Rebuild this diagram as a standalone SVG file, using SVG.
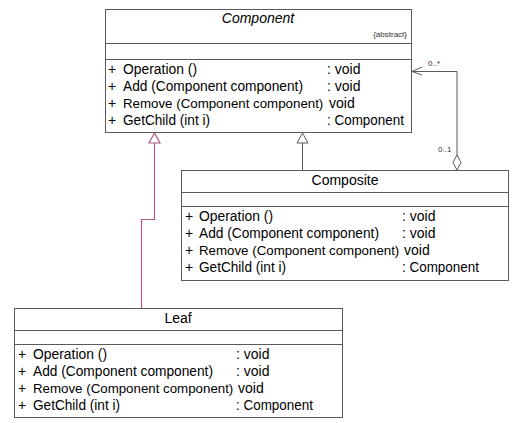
<svg xmlns="http://www.w3.org/2000/svg" width="526" height="423" viewBox="0 0 526 423">
<style>
.box{fill:#fff;stroke:#5a5a5a;stroke-width:1}
.sep{stroke:#5a5a5a;stroke-width:1}
.t{font-family:"Liberation Sans",Arial,sans-serif;font-size:14px;fill:#000}
.r{font-size:13.3px}
.title{font-family:"Liberation Sans",Arial,sans-serif;font-size:14px;fill:#000;text-anchor:middle}
.small{font-family:"Liberation Sans",Arial,sans-serif;font-size:8px;fill:#333}
.gen{fill:none;stroke:#5a5a5a;stroke-width:1}
.genp{fill:none;stroke:#b0578a;stroke-width:1.2}
</style>
<rect width="526" height="423" fill="#fff"/>
<g id="component">
<rect class="box" x="105.5" y="9.5" width="306" height="123"/>
<line class="sep" x1="105.5" y1="43.5" x2="411.5" y2="43.5"/>
<line class="sep" x1="105.5" y1="59.5" x2="411.5" y2="59.5"/>
<text class="title" x="258" y="23" font-style="italic">Component</text>
<text class="small" x="407" y="37" text-anchor="end">{abstract}</text>
<text class="t" x="108" y="74">+</text><text class="t" x="123" y="74" textLength="74" lengthAdjust="spacingAndGlyphs">Operation ()</text><text class="t" x="327" y="74">: void</text>
<text class="t" x="108" y="91">+</text><text class="t" x="123" y="91" textLength="180" lengthAdjust="spacingAndGlyphs">Add (Component component)</text><text class="t" x="327" y="91">: void</text>
<text class="t" x="108" y="108">+</text><text class="t r" x="123" y="108">Remove (Component component)</text><text class="t" x="329" y="108">void</text>
<text class="t" x="108" y="125">+</text><text class="t" x="123" y="125" textLength="87" lengthAdjust="spacingAndGlyphs">GetChild (int i)</text><text class="t" x="327" y="125" textLength="77" lengthAdjust="spacingAndGlyphs">: Component</text>
</g>
<g id="composite">
<rect class="box" x="181.5" y="170.5" width="327" height="110"/>
<line class="sep" x1="181.5" y1="192.5" x2="508.5" y2="192.5"/>
<line class="sep" x1="181.5" y1="206.5" x2="508.5" y2="206.5"/>
<text class="title" x="345" y="185">Composite</text>
<text class="t" x="185" y="221">+</text><text class="t" x="199" y="221" textLength="74" lengthAdjust="spacingAndGlyphs">Operation ()</text><text class="t" x="402" y="221">: void</text>
<text class="t" x="185" y="238">+</text><text class="t" x="199" y="238" textLength="180" lengthAdjust="spacingAndGlyphs">Add (Component component)</text><text class="t" x="402" y="238">: void</text>
<text class="t" x="185" y="255">+</text><text class="t r" x="199" y="255">Remove (Component component)</text><text class="t" x="404" y="255">void</text>
<text class="t" x="185" y="272">+</text><text class="t" x="199" y="272" textLength="87" lengthAdjust="spacingAndGlyphs">GetChild (int i)</text><text class="t" x="402" y="272" textLength="77" lengthAdjust="spacingAndGlyphs">: Component</text>
</g>
<g id="leaf">
<rect class="box" x="14.5" y="308.5" width="328" height="109"/>
<line class="sep" x1="14.5" y1="330.5" x2="342.5" y2="330.5"/>
<line class="sep" x1="14.5" y1="344.5" x2="342.5" y2="344.5"/>
<text class="title" x="178" y="323">Leaf</text>
<text class="t" x="18" y="359">+</text><text class="t" x="33" y="359" textLength="74" lengthAdjust="spacingAndGlyphs">Operation ()</text><text class="t" x="236" y="359">: void</text>
<text class="t" x="18" y="376">+</text><text class="t" x="33" y="376" textLength="180" lengthAdjust="spacingAndGlyphs">Add (Component component)</text><text class="t" x="236" y="376">: void</text>
<text class="t" x="18" y="393">+</text><text class="t r" x="33" y="393">Remove (Component component)</text><text class="t" x="238" y="393">void</text>
<text class="t" x="18" y="410">+</text><text class="t" x="33" y="410" textLength="87" lengthAdjust="spacingAndGlyphs">GetChild (int i)</text><text class="t" x="236" y="410" textLength="77" lengthAdjust="spacingAndGlyphs">: Component</text>
</g>
<g id="connectors">
<path class="genp" d="M141.5 308 V219.5 H154.5 V143"/>
<polygon class="genp" points="154.5,133 149,143 160,143"/>
<path class="gen" d="M302.5 170 V143"/>
<polygon class="gen" points="302.5,133 297,143 308,143"/>
<path class="gen" d="M457 155 V71.5 H412"/>
<path class="gen" d="M422 67 L412 71.5 L422 75"/>
<polygon class="gen" points="457,155 461,162.5 457,170 453,162.5" fill="#fff"/>
<text class="small" x="428" y="66">0..*</text>
<text class="small" x="438" y="152">0..1</text>
</g>
</svg>
